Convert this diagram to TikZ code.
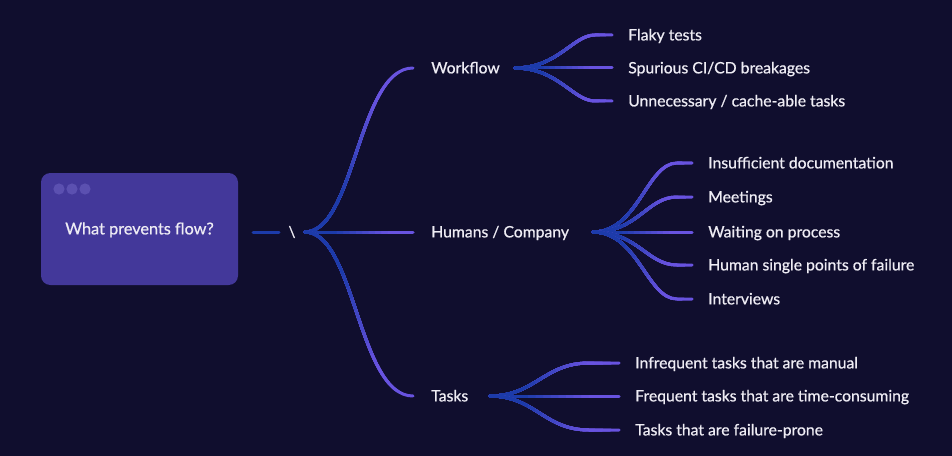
\documentclass[tikz,border=0pt]{standalone}
\usepackage{fontspec}
\setmainfont{Lato}
\newfontfamily\lblfont{Lato}[FakeBold=0.7]
\usetikzlibrary{calc}
\definecolor{bg}{HTML}{100E2E}
\definecolor{boxc}{HTML}{43389A}
\definecolor{dotc}{HTML}{5B50B0}
\definecolor{cblue}{HTML}{1C3BAA}
\definecolor{cpurple}{HTML}{6853E0}
\definecolor{txt}{HTML}{EEECF4}
\newcommand\gradpath[3]{%
  \draw[conn, cpurple] #3;
  \foreach \gk in {1,...,16}{%
    \pgfmathsetmacro\gpf{1-\gk/17}%
    \pgfmathsetmacro\gpt{100*max(0,min(1,(\gpf-0.3)/0.5))}%
    \pgfmathsetmacro\gpr{\gpf*#2*0.75}%
    \begin{scope}
      \clip (#1) circle[radius=\gpr pt];
      \draw[conn, color=cpurple!\gpt!cblue] #3;
    \end{scope}
  }%
}
\begin{document}
\begin{tikzpicture}[x=0.75pt,y=-0.75pt,
  lbl/.style={text=txt, anchor=west, inner sep=0pt, text height=2.0ex, text depth=0.4ex, font=\lblfont\fontsize{11.8}{13}\selectfont},
  conn/.style={line width=2.25pt, line cap=round},
  qbox/.style={fill=boxc, rounded corners=7pt, minimum width=147.75pt, minimum height=84pt, text=txt, text height=2.0ex, text depth=0.4ex, font=\lblfont\fontsize{12.2}{13}\selectfont},
  dot/.style={circle, fill=dotc, minimum size=8.4pt, inner sep=0pt},
]
\fill[bg] (0,0) rectangle (952,456);
\useasboundingbox (0,0) rectangle (952,456);

% question box
\node[qbox] (q) at (139.5,229) {What prevents flow?};
\node[dot] (d1) at (59,189) {};
\node[dot] (d2) at (72,189) {};
\node[dot] (d3) at (85,189) {};

\coordinate (s1) at (253,232);
\coordinate (s2) at (279,232);
\draw[conn, cblue] (s1) -- (s2);
\node[text=txt, inner sep=0pt, font=\lblfont\fontsize{11.5}{13}\selectfont] (bs) at (292,232) {\textbackslash};

% level 1
\coordinate (r0) at (305,232);
\coordinate (w0) at (413,68);
\coordinate (h0) at (413,232);
\coordinate (t0) at (413,396);
\node[lbl] (wf) at (431,68) {Workflow};
\node[lbl] (hc) at (431,232) {Humans / Company};
\node[lbl] (tk) at (431,396) {Tasks};

\gradpath{r0}{196.4}{(r0) .. controls +(50,0) and +(-55,0) .. (w0)}
\gradpath{r0}{108}{(r0) -- (h0)}
\gradpath{r0}{196.4}{(r0) .. controls +(50,0) and +(-55,0) .. (t0)}

% workflow fan
\coordinate (wr) at (515,68);
\coordinate (we1) at (612,35);
\coordinate (we2) at (612,68);
\coordinate (we3) at (612,101);
\node[lbl] (w1) at (628,35) {Flaky tests};
\node[lbl] (w2) at (628,68) {Spurious CI/CD breakages};
\node[lbl] (w3) at (628,101) {Unnecessary / cache-able tasks};
\gradpath{wr}{102.5}{(wr) .. controls +(43,0) and +(-22,0) .. ($(we1)+(-17,0)$) -- (we1)}
\gradpath{wr}{97}{(wr) -- (we2)}
\gradpath{wr}{102.5}{(wr) .. controls +(43,0) and +(-22,0) .. ($(we3)+(-17,0)$) -- (we3)}

% humans fan
\coordinate (hr) at (593,232);
\coordinate (he1) at (692,163);
\coordinate (he2) at (692,197);
\coordinate (he3) at (692,232);
\coordinate (he4) at (692,265);
\coordinate (he5) at (692,299);
\node[lbl] (h1) at (708,163) {Insufficient documentation};
\node[lbl] (h2) at (708,197) {Meetings};
\node[lbl] (h3) at (708,232) {Waiting on process};
\node[lbl] (h4) at (708,265) {Human single points of failure};
\node[lbl] (h5) at (708,299) {Interviews};
\gradpath{hr}{120.7}{(hr) .. controls +(45,0) and +(-30,0) .. ($(he1)+(-15,0)$) -- (he1)}
\gradpath{hr}{105}{(hr) .. controls +(45,0) and +(-30,0) .. ($(he2)+(-15,0)$) -- (he2)}
\gradpath{hr}{99}{(hr) -- (he3)}
\gradpath{hr}{104.4}{(hr) .. controls +(45,0) and +(-30,0) .. ($(he4)+(-15,0)$) -- (he4)}
\gradpath{hr}{119.5}{(hr) .. controls +(45,0) and +(-30,0) .. ($(he5)+(-15,0)$) -- (he5)}

% tasks fan
\coordinate (tr) at (490,396);
\coordinate (te1) at (619,363);
\coordinate (te2) at (619,396);
\coordinate (te3) at (619,430);
\node[lbl] (t1) at (635,363) {Infrequent tasks that are manual};
\node[lbl] (t2) at (635,396) {Frequent tasks that are time-consuming};
\node[lbl] (t3) at (635,430) {Tasks that are failure-prone};
\gradpath{tr}{133.2}{(tr) .. controls +(45,0) and +(-45,0) .. ($(te1)+(-30,0)$) -- (te1)}
\gradpath{tr}{129}{(tr) -- (te2)}
\gradpath{tr}{133.4}{(tr) .. controls +(45,0) and +(-45,0) .. ($(te3)+(-30,0)$) -- (te3)}
\end{tikzpicture}
\end{document}
